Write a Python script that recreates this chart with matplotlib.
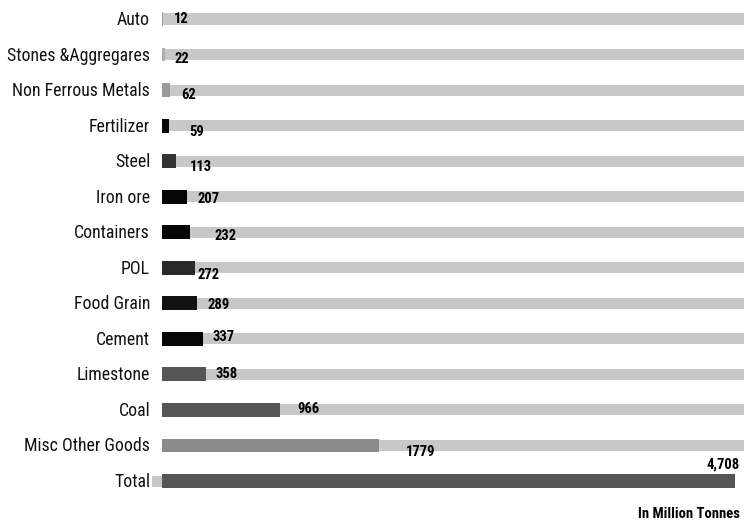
import numpy as np
import matplotlib.pyplot as plt

# ===== DATA =====

categories = ["Auto", "Stones &Aggregares", "Non Ferrous Metals", "Fertilizer",
              "Steel", "Iron ore", "Containers", "POL", "Food Grain", "Cement",
              "Limestone", "Coal", "Misc Other Goods", "Total"]
values = [12, 22, 62, 59, 113, 207, 232, 272, 289, 337, 358, 966, 1779, 4708]
value_labels = ["12", "22", "62", "59", "113", "207", "232", "272", "289",
                "337", "358", "966", "1779", "4,708"]

# ===== STYLE =====

bar_colors = ["#a0a0a0", "#b0b0b0", "#9a9a9a", "#050505", "#333333", "#050505",
              "#050505", "#2a2a2a", "#111111", "#050505", "#555555", "#555555",
              "#8a8a8a", "#555555"]
track_color = "#c8c8c8"
label_dx = [10, 10, 12, 20, 14, 10, 24, 2, 10, 10, 10, 18, 27, 0]   # px
label_dy = [0, 4, 5, 6, 6, 2, 4, 7, 2, -2, 0, -1, 7, 0]               # px

font = dict(family="Roboto Condensed")

fig = plt.figure(figsize=(7.44, 5.23), dpi=100)
ax = fig.add_axes([152 / 744, 0, 1 - 152 / 744, 1])

x_left = -82
x_right = 4708 * (744 - 162) / (735 - 162)
n = len(categories)
y = np.arange(n)

# background tracks (Total only shows a stub on the left)
track_start = [0] * (n - 1) + [x_left]
track_end = [x_right] * (n - 1) + [values[-1]]
ax.barh(y, [e - s for s, e in zip(track_start, track_end)], left=track_start,
        height=0.31, color=track_color, zorder=1)

# value bars
ax.barh(y, values, height=0.39, color=bar_colors, zorder=2)

ax.set_xlim(x_left, x_right)
ax.set_ylim((523 - 19) / 35.54, -19 / 35.54)

# value labels
px = (x_right - x_left) / (744 - 152)
for i, (v, lab) in enumerate(zip(values, value_labels)):
    if i == n - 1:
        ax.text(v + 5 * px, i - 0.45, lab, ha="right", va="center",
                fontsize=10.5, fontweight="bold", zorder=3, **font)
    else:
        ax.text(v + label_dx[i] * px, i + label_dy[i] / 35.54, lab,
                ha="left", va="center", fontsize=10.5, fontweight="bold",
                zorder=3, **font)

# category labels
for i, c in enumerate(categories):
    fig.text(150 / 744, 1 - (20 + i * 35.54) / 523, c, ha="right",
             va="center", fontsize=12.8, color="#111111", **font)

fig.text(740 / 744, 1 - 514 / 523, "In Million Tonnes", ha="right",
         va="center", fontsize=10.5, fontweight="bold", **font)

ax.axis("off")

fig.savefig("out.png", dpi=100)
